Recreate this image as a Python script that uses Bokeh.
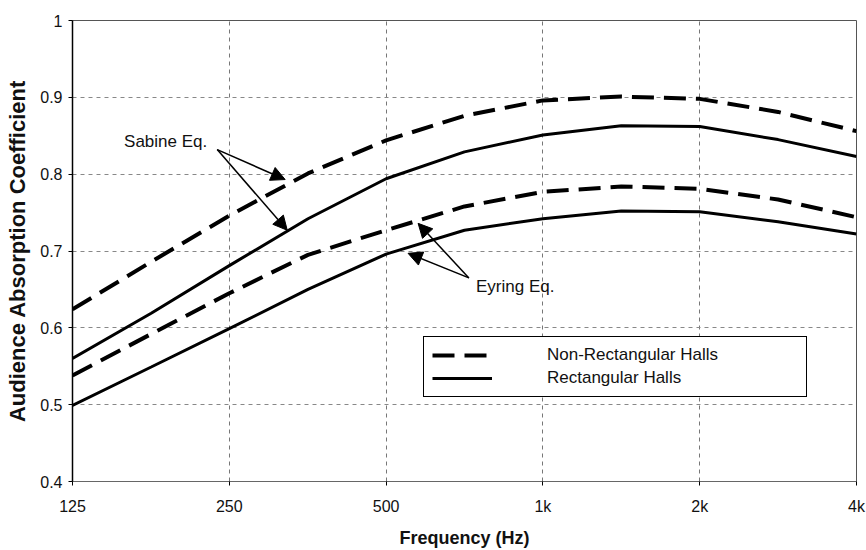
from bokeh.plotting import figure
from bokeh.models import (Range1d, FixedTicker, CustomJSTickFormatter, Legend, LegendItem,
                          Arrow, NormalHead, Label)
from bokeh.embed import file_html
from bokeh.resources import INLINE

# ---- data ----
freqs = [125, 177, 250, 354, 500, 707, 1000, 1414, 2000, 2828, 4000]
sabine_nonrect = [0.624, 0.686, 0.746, 0.801, 0.844, 0.876, 0.896, 0.901, 0.898, 0.881, 0.856]
sabine_rect = [0.560, 0.619, 0.681, 0.742, 0.794, 0.829, 0.851, 0.863, 0.862, 0.845, 0.823]
eyring_nonrect = [0.538, 0.592, 0.645, 0.695, 0.727, 0.758, 0.777, 0.784, 0.781, 0.767, 0.744]
eyring_rect = [0.499, 0.549, 0.599, 0.650, 0.696, 0.727, 0.742, 0.752, 0.751, 0.738, 0.722]

x_ticks = [125, 250, 500, 1000, 2000, 4000]
x_tick_labels = ["125", "250", "500", "1k", "2k", "4k"]
y_ticks = [0.4, 0.5, 0.6, 0.7, 0.8, 0.9, 1.0]
y_tick_labels = ["0.4", "0.5", "0.6", "0.7", "0.8", "0.9", "1"]

legend_labels = ["Non-Rectangular Halls", "Rectangular Halls"]
x_title = "Frequency (Hz)"
y_title = "Audience Absorption Coefficient"

# annotation anchors (data coordinates)
sabine_text = ("Sabine Eq.", 157, 0.842)
sabine_arrow_start = (237, 0.832)
sabine_arrow_ends = [(320, 0.793), (323, 0.727)]
eyring_text = ("Eyring Eq.", 744, 0.654)
eyring_arrow_start = (721, 0.665)
eyring_arrow_ends = [(576, 0.736), (551, 0.697)]

FONT = "Liberation Sans"

p = figure(width=866, height=550, x_axis_type="log",
           x_range=Range1d(125, 4000), y_range=Range1d(0.4, 1.0),
           output_backend="svg", toolbar_location=None,
           min_border_left=72, min_border_right=10, min_border_top=20, min_border_bottom=65)
p.background_fill_color = "white"
p.border_fill_color = "white"
p.outline_line_color = "#555555"
p.outline_line_width = 1

fmt_code = """
for (let i = 0; i < tv.length; i++) {
  if (Math.abs(tv[i] - tick) < 1e-6 * Math.max(1, Math.abs(tick))) return tl[i];
}
return "";
"""
p.xaxis.ticker = FixedTicker(ticks=x_ticks, minor_ticks=[])
p.xaxis.formatter = CustomJSTickFormatter(args=dict(tv=x_ticks, tl=x_tick_labels), code=fmt_code)
p.yaxis.ticker = FixedTicker(ticks=y_ticks, minor_ticks=[])
p.yaxis.formatter = CustomJSTickFormatter(args=dict(tv=y_ticks, tl=y_tick_labels), code=fmt_code)

for ax in (p.xaxis, p.yaxis):
    ax.major_label_text_font = FONT
    ax.major_label_text_font_size = "16px"
    ax.major_label_text_color = "#111111"
    ax.major_tick_out = 4
    ax.major_tick_in = 0
    ax.minor_tick_out = 0
    ax.minor_tick_in = 0
    ax.axis_label_text_font = FONT
    ax.axis_label_text_font_style = "bold"
    ax.axis_label_text_color = "#111111"

p.xaxis.axis_label = x_title
p.xaxis.axis_label_text_font_size = "18px"
p.xaxis.major_label_standoff = 12
p.xaxis.axis_label_standoff = 10
p.xaxis.axis_line_color = "#666666"

p.yaxis.axis_label = y_title
p.yaxis.axis_label_text_font_size = "22px"
p.yaxis.major_label_standoff = 6
p.yaxis.axis_label_standoff = 7
p.yaxis.axis_line_color = "black"
p.yaxis.axis_line_width = 1.5

p.xgrid.grid_line_color = "#777777"
p.xgrid.grid_line_dash = "4 4"
p.ygrid.grid_line_color = "#888888"
p.ygrid.grid_line_dash = "4 4"

dash = "22 10"
r1 = p.line(freqs, sabine_nonrect, line_color="black", line_width=4, line_dash=dash)
r2 = p.line(freqs, sabine_rect, line_color="black", line_width=3)
p.line(freqs, eyring_nonrect, line_color="black", line_width=4, line_dash=dash)
p.line(freqs, eyring_rect, line_color="black", line_width=3)

# annotations
for (xe, ye) in sabine_arrow_ends:
    p.add_layout(Arrow(end=NormalHead(size=14, fill_color="black", line_color="black"),
                       x_start=sabine_arrow_start[0], y_start=sabine_arrow_start[1],
                       x_end=xe, y_end=ye, line_width=1.5, line_color="black"))
for (xe, ye) in eyring_arrow_ends:
    p.add_layout(Arrow(end=NormalHead(size=14, fill_color="black", line_color="black"),
                       x_start=eyring_arrow_start[0], y_start=eyring_arrow_start[1],
                       x_end=xe, y_end=ye, line_width=1.5, line_color="black"))

for (txt, tx, ty) in (sabine_text, eyring_text):
    p.add_layout(Label(x=tx, y=ty, text=txt, text_font=FONT, text_font_size="17px",
                       text_baseline="middle", text_align="left", text_color="#111111"))

legend = Legend(items=[LegendItem(label=legend_labels[0], renderers=[r1]),
                       LegendItem(label=legend_labels[1], renderers=[r2])],
                location=(351, 84))
legend.margin = 0
legend.padding = 8
legend.spacing = 3
legend.glyph_width = 60
legend.glyph_height = 20
legend.label_height = 20
legend.label_width = 251
legend.label_standoff = 55
legend.label_text_font = FONT
legend.label_text_font_size = "17px"
legend.label_text_color = "#111111"
legend.border_line_color = "black"
legend.border_line_width = 1.5
legend.border_line_alpha = 1.0
legend.background_fill_color = "white"
legend.background_fill_alpha = 1.0
p.add_layout(legend, "center")

open("out.html", "w").write(file_html(p, INLINE))
